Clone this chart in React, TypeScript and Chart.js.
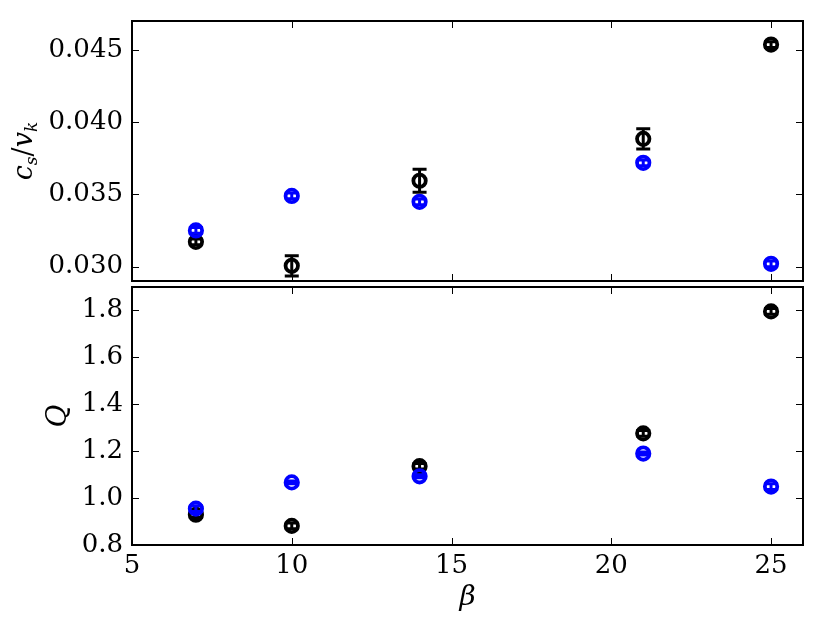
import React, { useEffect, useRef } from "react";
import { Chart, registerables } from "chart.js";
Chart.register(...registerables);

const BETA = [7, 10, 14, 21, 25];
const CS_BLACK = [0.03171, 0.03005, 0.03594, 0.03884, 0.04537];
const CS_BLACK_ERR = [0.0002, 0.0007, 0.0008, 0.0007, 0.0002];
const CS_BLUE = [0.0325, 0.03489, 0.03448, 0.03718, 0.03019];
const CS_BLUE_ERR = [0.0002, 0.0002, 0.0002, 0.0002, 0.0002];
const Q_BLACK = [0.929, 0.8815, 1.136, 1.276, 1.796];
const Q_BLACK_ERR = [0.012, 0.012, 0.012, 0.012, 0.012];
const Q_BLUE = [0.955, 1.067, 1.093, 1.19, 1.049];
const Q_BLUE_ERR = [0.012, 0.006, 0.006, 0.006, 0.012];
const X_TICKS = [5, 10, 15, 20, 25];
const CS_TICKS = [0.03, 0.035, 0.04, 0.045];
const Q_TICKS = [0.8, 1.0, 1.2, 1.4, 1.6, 1.8];
const X_RANGE = [5, 26];
const CS_RANGE = [0.029, 0.047];
const Q_RANGE = [0.8, 1.9];

const FONT = "DejaVu Serif";
const BLACK = "#000000";
const BLUE = "#0000ff";

const errorBarPlugin = {
  id: "errbars",
  afterDatasetDraw(chart: any, args: any) {
    const ds = chart.data.datasets[args.index];
    const errs = ds.errs;
    if (!errs) return;
    const xs = chart.scales.x;
    const ys = chart.scales.y;
    const ctx = chart.ctx;
    ctx.save();
    ctx.strokeStyle = ds.borderColor;
    ctx.lineWidth = 3;
    ds.data.forEach((p: any, i: number) => {
      const px = xs.getPixelForValue(p.x);
      const t = ys.getPixelForValue(p.y + errs[i]);
      const b = ys.getPixelForValue(p.y - errs[i]);
      ctx.beginPath();
      ctx.moveTo(px, t);
      ctx.lineTo(px, b);
      ctx.moveTo(px - 7, t);
      ctx.lineTo(px + 7, t);
      ctx.moveTo(px - 7, b);
      ctx.lineTo(px + 7, b);
      ctx.stroke();
    });
    ctx.restore();
  },
};

function framePlugin(yTicks: number[]) {
  return {
    id: "frame",
    afterDraw(chart: any) {
      const { ctx, chartArea: a } = chart;
      const xs = chart.scales.x;
      const ys = chart.scales.y;
      ctx.save();
      ctx.strokeStyle = BLACK;
      ctx.lineWidth = 1;
      const L = 7;
      ctx.beginPath();
      X_TICKS.forEach((v) => {
        const px = Math.round(xs.getPixelForValue(v)) + 0.5;
        ctx.moveTo(px, a.bottom);
        ctx.lineTo(px, a.bottom - L);
        ctx.moveTo(px, a.top);
        ctx.lineTo(px, a.top + L);
      });
      yTicks.forEach((v) => {
        const py = Math.round(ys.getPixelForValue(v)) + 0.5;
        ctx.moveTo(a.left, py);
        ctx.lineTo(a.left + L, py);
        ctx.moveTo(a.right, py);
        ctx.lineTo(a.right - L, py);
      });
      ctx.stroke();
      ctx.lineWidth = 2;
      ctx.strokeRect(a.left, a.top, a.right - a.left, a.bottom - a.top);
      ctx.restore();
    },
  };
}

const topTitlePlugin = {
  id: "topTitle",
  afterDraw(chart: any) {
    const ctx = chart.ctx;
    const a = chart.chartArea;
    ctx.save();
    ctx.translate(32, (a.top + a.bottom) / 2);
    ctx.rotate(-Math.PI / 2);
    ctx.fillStyle = BLACK;
    ctx.textBaseline = "alphabetic";
    const main = `italic 27px "${FONT}"`;
    const sub = `italic 17px "${FONT}"`;
    const roman = `27px "${FONT}"`;
    const parts: [string, string, number][] = [
      ["c", main, 0],
      ["s", sub, 5],
      ["/", roman, 0],
      ["v", main, 0],
      ["k", sub, 5],
    ];
    let total = 0;
    parts.forEach(([t, f]) => {
      ctx.font = f;
      total += ctx.measureText(t).width;
    });
    let x = -total / 2;
    parts.forEach(([t, f, dy]) => {
      ctx.font = f;
      ctx.fillText(t, x, dy);
      x += ctx.measureText(t).width;
    });
    ctx.restore();
  },
};

const bottomTitlePlugin = {
  id: "bottomTitle",
  afterDraw(chart: any) {
    const ctx = chart.ctx;
    const a = chart.chartArea;
    ctx.save();
    ctx.fillStyle = BLACK;
    ctx.font = `italic 28px "${FONT}"`;
    ctx.textAlign = "center";
    ctx.textBaseline = "alphabetic";
    ctx.fillText("β", (a.left + a.right) / 2, a.bottom + 60);
    ctx.translate(66, (a.top + a.bottom) / 2);
    ctx.rotate(-Math.PI / 2);
    ctx.fillText("Q", 0, 0);
    ctx.restore();
  },
};

function dataset(label: string, ys: number[], errs: number[], color: string, order: number) {
  return {
    label,
    data: BETA.map((x, i) => ({ x, y: ys[i] })),
    errs,
    borderColor: color,
    backgroundColor: "rgba(0,0,0,0)",
    pointRadius: 6.2,
    pointHoverRadius: 6.2,
    pointBorderWidth: 3.8,
    pointStyle: "circle",
    showLine: false,
    order,
  };
}

const tickFont = { family: FONT, size: 26 };

const zeroVPad = (s: any) => {
  s.width = 132;
  s.paddingTop = 0;
  s.paddingBottom = 0;
};

export default function App() {
  const topRef = useRef<HTMLCanvasElement>(null);
  const botRef = useRef<HTMLCanvasElement>(null);

  useEffect(() => {
    const top = new Chart(topRef.current as HTMLCanvasElement, {
      type: "scatter",
      data: {
        datasets: [
          dataset("black", CS_BLACK, CS_BLACK_ERR, BLACK, 1),
          dataset("blue", CS_BLUE, CS_BLUE_ERR, BLUE, 0),
        ] as any,
      },
      options: {
        animation: false,
        responsive: false,
        devicePixelRatio: 1,
        layout: { autoPadding: false, padding: { top: 21, right: 27, bottom: 3, left: 0 } },
        plugins: { legend: { display: false }, tooltip: { enabled: false } },
        scales: {
          x: { type: "linear", min: X_RANGE[0], max: X_RANGE[1], display: false },
          y: {
            type: "linear",
            min: CS_RANGE[0],
            max: CS_RANGE[1],
            afterBuildTicks: (s: any) => {
              s.ticks = CS_TICKS.map((v) => ({ value: v }));
            },
            afterFit: zeroVPad,
            grid: { display: false, drawTicks: false },
            border: { display: false },
            ticks: {
              font: tickFont,
              color: BLACK,
              padding: 9,
              callback: (v: any) => Number(v).toFixed(3),
            },
          },
        },
      } as any,
      plugins: [errorBarPlugin, framePlugin(CS_TICKS), topTitlePlugin],
    });

    const bot = new Chart(botRef.current as HTMLCanvasElement, {
      type: "scatter",
      data: {
        datasets: [
          dataset("black", Q_BLACK, Q_BLACK_ERR, BLACK, 1),
          dataset("blue", Q_BLUE, Q_BLUE_ERR, BLUE, 0),
        ] as any,
      },
      options: {
        animation: false,
        responsive: false,
        devicePixelRatio: 1,
        layout: { autoPadding: false, padding: { top: 3, right: 27, bottom: 0, left: 0 } },
        plugins: { legend: { display: false }, tooltip: { enabled: false } },
        scales: {
          x: {
            type: "linear",
            min: X_RANGE[0],
            max: X_RANGE[1],
            afterBuildTicks: (s: any) => {
              s.ticks = X_TICKS.map((v) => ({ value: v }));
            },
            afterFit: (s: any) => {
              s.height = 80;
              s.paddingLeft = 0;
              s.paddingRight = 0;
            },
            grid: { display: false, drawTicks: false },
            border: { display: false },
            ticks: {
              font: tickFont,
              color: BLACK,
              padding: 6,
              maxRotation: 0,
              autoSkip: false,
              callback: (v: any) => String(v),
            },
          },
          y: {
            type: "linear",
            min: Q_RANGE[0],
            max: Q_RANGE[1],
            afterBuildTicks: (s: any) => {
              s.ticks = Q_TICKS.map((v) => ({ value: v }));
            },
            afterFit: zeroVPad,
            grid: { display: false, drawTicks: false },
            border: { display: false },
            ticks: {
              font: tickFont,
              color: BLACK,
              padding: 9,
              callback: (v: any) => Number(v).toFixed(1),
            },
          },
        },
      } as any,
      plugins: [errorBarPlugin, framePlugin(Q_TICKS), bottomTitlePlugin],
    });

    return () => {
      top.destroy();
      bot.destroy();
    };
  }, []);

  return (
    <div style={{ position: "absolute", left: 0, top: 0, width: 830, height: 625, background: "#fff" }}>
      <canvas
        ref={topRef}
        width={830}
        height={284}
        style={{ position: "absolute", left: 0, top: 0, width: 830, height: 284 }}
      />
      <canvas
        ref={botRef}
        width={830}
        height={341}
        style={{ position: "absolute", left: 0, top: 284, width: 830, height: 341 }}
      />
    </div>
  );
}
